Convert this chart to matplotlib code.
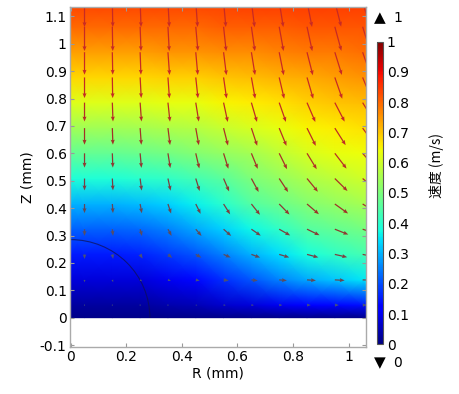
import numpy as np
import matplotlib
matplotlib.use("Agg")
import matplotlib.pyplot as plt
from matplotlib.colors import LinearSegmentedColormap, Normalize
from matplotlib.patches import Arc

# =========================
# DATA
# =========================
# grid of the velocity surface, mm
r_grid = [0.0, 0.05, 0.15, 0.25, 0.35, 0.45, 0.55, 0.65, 0.75, 0.85, 0.95, 1.05, 1.1]
z_grid = [0.0, 0.046, 0.138, 0.231, 0.323, 0.415, 0.508, 0.6, 0.692, 0.785,
          0.877, 0.969, 1.062, 1.154]

# speed (m/s), one row per z_grid value, one column per r_grid value
speed = [
    [0.01, 0.01, 0.01, 0.01, 0.01, 0.01, 0.01, 0.01, 0.01, 0.01, 0.01, 0.01, 0.01],
    [0.03, 0.03, 0.03, 0.03, 0.04, 0.05, 0.07, 0.08, 0.10, 0.12, 0.13, 0.14, 0.14],
    [0.08, 0.08, 0.08, 0.08, 0.10, 0.13, 0.17, 0.21, 0.25, 0.29, 0.32, 0.35, 0.35],
    [0.15, 0.15, 0.15, 0.16, 0.18, 0.21, 0.25, 0.30, 0.34, 0.38, 0.41, 0.43, 0.43],
    [0.22, 0.22, 0.22, 0.23, 0.25, 0.29, 0.33, 0.37, 0.41, 0.45, 0.47, 0.49, 0.49],
    [0.30, 0.30, 0.30, 0.31, 0.33, 0.36, 0.40, 0.45, 0.48, 0.51, 0.53, 0.55, 0.55],
    [0.39, 0.39, 0.39, 0.40, 0.41, 0.43, 0.46, 0.50, 0.53, 0.56, 0.58, 0.60, 0.60],
    [0.47, 0.47, 0.47, 0.48, 0.49, 0.51, 0.53, 0.55, 0.58, 0.61, 0.63, 0.64, 0.64],
    [0.545, 0.545, 0.545, 0.55, 0.56, 0.57, 0.59, 0.61, 0.63, 0.65, 0.66, 0.67, 0.67],
    [0.62, 0.62, 0.62, 0.62, 0.63, 0.63, 0.65, 0.66, 0.67, 0.69, 0.70, 0.71, 0.71],
    [0.68, 0.68, 0.68, 0.68, 0.69, 0.69, 0.70, 0.71, 0.72, 0.73, 0.74, 0.75, 0.75],
    [0.74, 0.74, 0.74, 0.74, 0.75, 0.75, 0.76, 0.76, 0.77, 0.78, 0.78, 0.79, 0.79],
    [0.80, 0.80, 0.80, 0.80, 0.80, 0.80, 0.81, 0.81, 0.81, 0.82, 0.82, 0.82, 0.82],
    [0.84, 0.84, 0.84, 0.84, 0.84, 0.84, 0.84, 0.85, 0.85, 0.85, 0.85, 0.85, 0.85],
]

# arrow direction, degrees away from straight down toward +R,
# at the inner nodes r_grid[1:-1] x z_grid[1:]
arrow_angle = [
    [0, 40, 75, 85, 88, 89, 89, 90, 90, 90, 90],
    [0, 20, 55, 72, 78, 81, 83, 85, 86, 87, 88],
    [0, 10, 30, 50, 60, 66, 70, 73, 75, 77, 78],
    [0, 6, 15, 28, 40, 48, 55, 60, 64, 68, 71],
    [0, 4, 10, 18, 26, 32, 38, 44, 49, 54, 58],
    [0, 3, 7, 12, 17, 23, 28, 33, 39, 45, 50],
    [0, 2, 5, 9, 13, 17, 22, 26, 31, 37, 41],
    [0, 2, 4, 7, 10, 14, 18, 22, 26, 32, 36],
    [0, 2, 4, 6, 9, 12, 16, 19, 23, 27, 31],
    [0, 1, 3, 4, 6, 8, 10, 13, 16, 19, 22],
    [0, 1, 2, 4, 5, 7, 9, 11, 14, 17, 19],
    [0, 1, 2, 3, 5, 6, 8, 10, 12, 15, 17],
    [0, 1, 2, 3, 4, 5, 7, 9, 11, 14, 16],
]

sphere_radius = 0.285

x_ticks = [0, 0.2, 0.4, 0.6, 0.8, 1]
y_ticks = [-0.1, 0, 0.1, 0.2, 0.3, 0.4, 0.5, 0.6, 0.7, 0.8, 0.9, 1, 1.1]
cbar_ticks = [0, 0.1, 0.2, 0.3, 0.4, 0.5, 0.6, 0.7, 0.8, 0.9, 1]

# =========================
# FIGURE
# =========================
plt.rcParams["font.family"] = ["DejaVu Sans"]
plt.rcParams["font.size"] = 10

W, H = 459, 394
fig = plt.figure(figsize=(W / 100, H / 100), dpi=100)
ax = fig.add_axes([69.5 / W, (H - 347) / H, (365.7 - 69.5) / W, (347 - 7.3) / H])

R, Z = np.meshgrid(r_grid, z_grid)
S = np.array(speed)
ax.pcolormesh(R, Z, S, shading="gouraud", cmap="jet", vmin=0, vmax=1,
              rasterized=True)

# sphere outline (upper quarter only)
ax.add_patch(Arc((0, 0), 2 * sphere_radius, 2 * sphere_radius, theta1=0, theta2=90,
                 ec="#101050", lw=0.8, alpha=0.7))

# arrows
ra, za = np.meshgrid(r_grid[1:-1], z_grid[1:])
sa = S[1:, 1:-1]
ang = np.radians(np.array(arrow_angle))
u = sa * np.sin(ang)
w = -sa * np.cos(ang)
arrow_cmap = LinearSegmentedColormap.from_list(
    "arr", ["#485276", "#6a4650", "#9a3428", "#c82a24"])
ax.quiver(ra, za, u, w, sa, cmap=arrow_cmap, norm=Normalize(0.15, 0.7),
          angles="xy", scale_units="xy", scale=9, pivot="tail",
          width=0.0042, headwidth=3.2, headlength=4, headaxislength=3.6)

ax.set_xlim(-0.004, 1.061)
ax.set_ylim(-0.107, 1.133)
ax.set_xticks(x_ticks)
ax.set_xticklabels(["0", "0.2", "0.4", "0.6", "0.8", "1"])
ax.set_yticks(y_ticks)
ax.set_yticklabels(["-0.1", "0", "0.1", "0.2", "0.3", "0.4", "0.5", "0.6",
                    "0.7", "0.8", "0.9", "1", "1.1"])
ax.tick_params(direction="in", length=3, color="#999999", top=True, right=True,
               labelsize=10, pad=2)
for sp in ax.spines.values():
    sp.set_color("#aaaaaa")
    sp.set_linewidth(1.0)
ax.set_xlabel("R (mm)", labelpad=2)
ax.set_ylabel("Z (mm)", labelpad=4)

# colorbar
cax = fig.add_axes([376.7 / W, (H - 344.3) / H, 6 / W, (344.3 - 41.7) / H])
sm = plt.cm.ScalarMappable(cmap="jet", norm=Normalize(0, 1))
cb = fig.colorbar(sm, cax=cax, ticks=cbar_ticks)
cb.ax.set_yticklabels(["0", "0.1", "0.2", "0.3", "0.4", "0.5", "0.6", "0.7",
                       "0.8", "0.9", "1"])
cb.ax.tick_params(length=0, labelsize=10, pad=3)
cb.outline.set_edgecolor("#555555")
cb.outline.set_linewidth(0.8)
fig.text(436 / W, 1 - 165 / H, "速度 (m/s)", rotation=90, ha="center", va="center",
         family=["Noto Sans CJK SC", "DejaVu Sans"], fontsize=10)

# max / min markers
fig.text(379.5 / W, 1 - 18 / H, "▲", ha="center", va="center", fontsize=11)
fig.text(393 / W, 1 - 18 / H, "1", ha="left", va="center", fontsize=10)
fig.text(379.5 / W, 1 - 363 / H, "▼", ha="center", va="center", fontsize=11)
fig.text(393 / W, 1 - 363 / H, "0", ha="left", va="center", fontsize=10)

fig.savefig("out.png", dpi=100)
